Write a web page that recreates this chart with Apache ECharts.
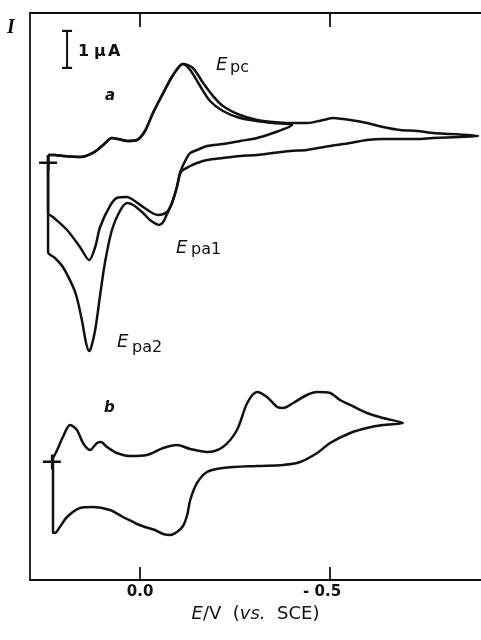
<!DOCTYPE html>
<html><head><meta charset="utf-8">
<script src="https://cdn.jsdelivr.net/npm/echarts@6/dist/echarts.min.js"></script>
<style>html,body{margin:0;padding:0;background:#fff}#c{width:481px;height:640px}</style>
</head><body><div id="c"></div>
<script>
// E in V (vs. SCE), I in µA (arbitrary offset)
const xMin = -0.897, xMax = 0.2895;
const yMin = 0, yMax = 15.324;
const tickValues = [0, -0.5];

// curve a: common cathodic start up to Epc peak
const aForward = [[0.242,11.486],[0.224,11.486],[0.203,11.459],[0.158,11.432],[0.124,11.541],[0.097,11.757],[0.074,11.946],[0.058,11.919],[0.034,11.865],[0.008,11.892],[-0.013,12.135],[-0.034,12.622],[-0.061,13.162],[-0.087,13.649],[-0.113,13.946]];
// curve a, cycle to -0.40 V
const aCycle1 = [[-0.132,13.784],[-0.158,13.351],[-0.184,12.946],[-0.218,12.676],[-0.263,12.486],[-0.308,12.405],[-0.350,12.351],[-0.400,12.297],
 [-0.350,12.081],[-0.308,11.946],[-0.263,11.865],[-0.218,11.784],[-0.176,11.730],[-0.150,11.622],[-0.132,11.541],
 [-0.124,11.432],[-0.111,11.162],[-0.105,11.000],[-0.097,10.622],[-0.084,10.189],[-0.071,9.946],[-0.047,9.865],
 [-0.008,10.081],[0.018,10.270],[0.034,10.351],[0.061,10.324],[0.079,10.108],[0.105,9.541],[0.118,9.000],[0.134,8.649],[0.158,9.000],[0.192,9.459],[0.229,9.811],[0.242,9.919],[0.242,11.486]];
// curve a, cycle to -0.89 V
const aCycle2 = [[-0.139,13.838],[-0.166,13.432],[-0.192,13.081],[-0.218,12.811],[-0.263,12.568],[-0.308,12.432],[-0.350,12.378],[-0.395,12.351],[-0.439,12.351],[-0.482,12.432],[-0.508,12.486],[-0.534,12.459],[-0.553,12.432],[-0.597,12.351],[-0.639,12.243],[-0.684,12.162],[-0.729,12.135],[-0.771,12.081],[-0.816,12.054],[-0.861,12.027],[-0.890,12.000],
 [-0.842,11.973],[-0.771,11.946],[-0.729,11.919],[-0.684,11.919],[-0.639,11.919],[-0.597,11.892],[-0.553,11.811],[-0.500,11.730],[-0.439,11.622],[-0.395,11.595],[-0.350,11.541],[-0.308,11.486],[-0.263,11.459],[-0.218,11.405],[-0.176,11.351],[-0.150,11.270],[-0.132,11.189],
 [-0.113,11.081],[-0.105,10.973],[-0.097,10.622],[-0.084,10.189],[-0.071,9.892],[-0.061,9.676],[-0.050,9.595],[-0.026,9.730],[-0.008,9.919],[0.018,10.135],[0.034,10.189],[0.053,9.973],[0.074,9.459],[0.092,8.595],[0.105,7.703],[0.118,6.757],[0.129,6.270],[0.134,6.189],[0.142,6.405],[0.153,7.027],[0.166,7.622],[0.176,7.919],[0.203,8.459],[0.224,8.703],[0.242,8.865],[0.242,11.486]];
// curve b
const bForward = [[0.229,3.297],[0.218,3.514],[0.203,3.865],[0.184,4.189],[0.166,4.054],[0.150,3.703],[0.132,3.514],[0.113,3.703],[0.103,3.730],[0.087,3.595],[0.061,3.432],[0.026,3.351],[-0.018,3.378],[-0.061,3.568],[-0.097,3.649],[-0.132,3.541],[-0.176,3.459],[-0.218,3.595],[-0.255,4.054],[-0.282,4.784],[-0.308,5.081],[-0.334,4.946],[-0.361,4.676],[-0.376,4.649],[-0.403,4.784],[-0.439,5.000],[-0.466,5.081],[-0.500,5.054],[-0.526,4.865],[-0.553,4.730],[-0.597,4.514],[-0.639,4.378],[-0.692,4.243]];
const bReverse = [[-0.639,4.189],[-0.597,4.108],[-0.553,3.973],[-0.500,3.703],[-0.466,3.432],[-0.421,3.189],[-0.376,3.108],[-0.308,3.081],[-0.218,3.027],[-0.176,2.919],[-0.150,2.622],[-0.132,2.162],[-0.124,1.757],[-0.113,1.459],[-0.097,1.297],[-0.079,1.216],[-0.061,1.243],[-0.039,1.351],[-0.013,1.432],[0.008,1.514],[0.018,1.568],[0.045,1.703],[0.079,1.892],[0.124,1.973],[0.158,1.946],[0.192,1.703],[0.211,1.432],[0.224,1.270],[0.229,1.297],[0.229,3.297]];
// start markers and scale bar
const startA = [[0.242, 11.27]];
const startB = [[0.232, 3.189]];
const scaleBar = [[0.192, 14.84], [0.192, 13.84]];

const ink = '#111';
const font = 'DejaVu Sans';
const curve = (name, data) => ({
  name, type: 'line', data, showSymbol: false, symbol: 'none', smooth: 0.3,
  lineStyle: { color: ink, width: 2.5 }, silent: true, z: 3
});
const crossPath = 'path://M0,6L18,6L18,8.5L0,8.5Z M8,0L10.5,0L10.5,15L8,15Z';

const chart = echarts.init(document.getElementById('c'), null, { renderer: 'canvas' });
chart.setOption({
  animation: false,
  backgroundColor: '#fff',
  grid: { left: 30, right: 0, top: 13, bottom: 60 },
  xAxis: [{
    type: 'value', min: xMin, max: xMax, inverse: true, position: 'bottom',
    axisLine: { show: true, onZero: false, lineStyle: { color: ink, width: 1.8 } },
    axisTick: { show: true, inside: true, length: 13, customValues: tickValues, lineStyle: { color: ink, width: 1.8 } },
    axisLabel: {
      customValues: tickValues, margin: 5, color: ink, fontFamily: font, fontSize: 15, fontWeight: 'bold',
      formatter: v => v < 0 ? '{n|- ' + Math.abs(v).toFixed(1) + '}' : v.toFixed(1),
      rich: { n: { fontFamily: font, fontSize: 15, fontWeight: 'bold', color: ink, padding: [0, 16, 0, 0] } }
    },
    splitLine: { show: false },
    name: '{i|E}/V  ({i|vs.}  SCE)', nameLocation: 'middle', nameGap: 22,
    nameTextStyle: {
      fontFamily: font, fontSize: 18, color: ink,
      rich: { i: { fontFamily: font, fontSize: 18, fontStyle: 'italic', color: ink } }
    }
  }, {
    type: 'value', min: xMin, max: xMax, inverse: true, position: 'top',
    axisLine: { show: true, onZero: false, lineStyle: { color: ink, width: 1.8 } },
    axisTick: { show: true, inside: true, length: 14, customValues: tickValues, lineStyle: { color: ink, width: 1.8 } },
    axisLabel: { show: false }, splitLine: { show: false }
  }],
  yAxis: [{
    type: 'value', min: yMin, max: yMax,
    axisLine: { show: true, onZero: false, lineStyle: { color: ink, width: 1.8 } },
    axisTick: { show: false }, axisLabel: { show: false }, splitLine: { show: false }
  }],
  series: [
    curve('a-cycle1', aForward.concat(aCycle1)),
    curve('a-cycle2', aForward.concat(aCycle2)),
    curve('b', bForward.concat(bReverse)),
    { type: 'scatter', data: startA.concat(startB), symbol: crossPath, symbolSize: [18, 15],
      itemStyle: { color: ink, opacity: 1 }, silent: true, z: 4 },
    { type: 'line', data: scaleBar, symbol: 'rect', symbolSize: [10, 2.2], showSymbol: true,
      lineStyle: { color: ink, width: 2 }, itemStyle: { color: ink, opacity: 1 }, silent: true, z: 4 }
  ],
  graphic: [
    { type: 'text', x: 7, y: 28, style: { text: 'I', font: 'italic bold 20px "Liberation Serif"', fill: ink, verticalAlign: 'middle' } },
    { type: 'text', x: 78, y: 52, style: { text: '1', font: 'bold 16px "DejaVu Sans"', fill: ink, verticalAlign: 'middle' } },
    { type: 'text', x: 94, y: 52, style: { text: 'µ', font: 'bold 16px "DejaVu Sans"', fill: ink, verticalAlign: 'middle' } },
    { type: 'text', x: 108, y: 52, style: { text: 'A', font: 'bold 16px "DejaVu Sans"', fill: ink, verticalAlign: 'middle' } },
    { type: 'text', x: 105, y: 96.5, style: { text: 'a', font: 'italic bold 15px "DejaVu Sans"', fill: ink, verticalAlign: 'middle' } },
    { type: 'text', x: 104, y: 408.5, style: { text: 'b', font: 'italic bold 15px "DejaVu Sans"', fill: ink, verticalAlign: 'middle' } },
    { type: 'text', x: 216, y: 65.6, style: { text: 'E', font: 'italic 18px "DejaVu Sans"', fill: ink, verticalAlign: 'middle' } },
    { type: 'text', x: 230, y: 68.2, style: { text: 'pc', font: '16px "DejaVu Sans"', fill: ink, verticalAlign: 'middle' } },
    { type: 'text', x: 176, y: 248.6, style: { text: 'E', font: 'italic 18px "DejaVu Sans"', fill: ink, verticalAlign: 'middle' } },
    { type: 'text', x: 191, y: 250.2, style: { text: 'pa1', font: '16px "DejaVu Sans"', fill: ink, verticalAlign: 'middle' } },
    { type: 'text', x: 117, y: 342.6, style: { text: 'E', font: 'italic 18px "DejaVu Sans"', fill: ink, verticalAlign: 'middle' } },
    { type: 'text', x: 132, y: 347.5, style: { text: 'pa2', font: '16px "DejaVu Sans"', fill: ink, verticalAlign: 'middle' } }
  ]
});
</script></body></html>
